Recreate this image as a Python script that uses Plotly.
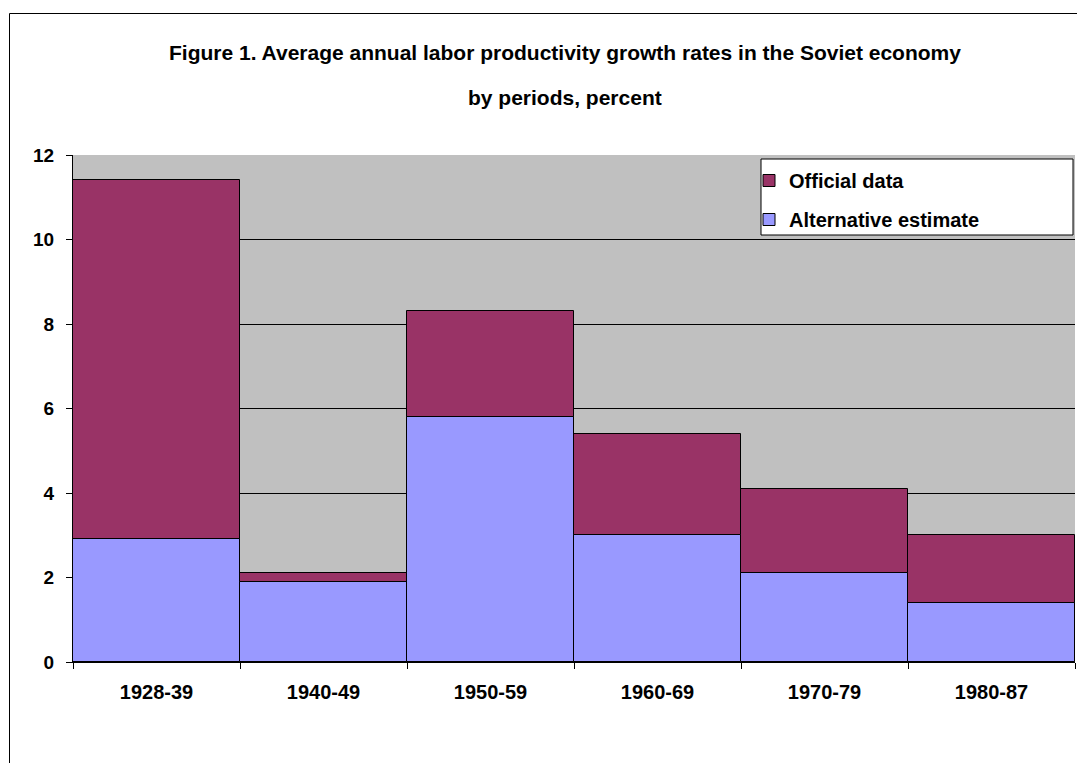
import plotly.graph_objects as go

# periods and growth rates (percent per year)
periods = ["1928-39", "1940-49", "1950-59", "1960-69", "1970-79", "1980-87"]
official = [11.4, 2.1, 8.3, 5.4, 4.1, 3.0]
alternative = [2.9, 1.9, 5.8, 3.0, 2.1, 1.4]

W, H = 1077, 763
L, R, T, B = 73, 2, 155, 101
pw, ph = W - L - R, H - T - B


def px_x(x):
    return (x - L) / pw


def px_y(y):
    return (H - B - y) / ph


fnt = "Arial, Liberation Sans, sans-serif"

fig = go.Figure()
fig.add_trace(go.Bar(
    x=periods, y=official, name="Official data", legendgroup="a",
    marker=dict(color="#993366", line=dict(color="black", width=1)),
))
fig.add_trace(go.Bar(
    x=periods, y=alternative, name="Alternative estimate", legendgroup="b",
    marker=dict(color="#9999FF", line=dict(color="black", width=1)),
))

fig.update_layout(
    width=W, height=H,
    margin=dict(l=L, r=R, t=T, b=B),
    barmode="overlay", bargap=0,
    paper_bgcolor="white", plot_bgcolor="#C0C0C0",
    font=dict(family=fnt, color="black"),
    legend=dict(
        x=px_x(749), y=px_y(161), xanchor="left", yanchor="top",
        bgcolor="rgba(0,0,0,0)", borderwidth=0,
        font=dict(size=20, family=fnt, weight="bold"),
        tracegroupgap=10,
    ),
    xaxis=dict(
        type="category", tickson="boundaries",
        ticks="outside", ticklen=6, tickcolor="black",
        showline=True, linecolor="black", linewidth=1,
        tickfont=dict(size=20, weight="bold"),
        ticklabelstandoff=12,
        showgrid=False,
    ),
    yaxis=dict(
        range=[0, 12], dtick=2,
        ticks="outside", ticklen=6, tickcolor="black",
        showline=True, linecolor="black", linewidth=1,
        showgrid=True, gridcolor="black", gridwidth=1,
        tickfont=dict(size=19, weight="bold"),
        ticklabelstandoff=8,
        zeroline=False,
    ),
    annotations=[
        dict(text="Figure 1. Average annual labor productivity growth rates in the Soviet economy",
             xref="paper", yref="paper", x=px_x(565), y=px_y(52),
             xanchor="center", yanchor="middle",
             showarrow=False, font=dict(size=21, weight="bold")),
        dict(text="by periods, percent",
             xref="paper", yref="paper", x=px_x(565), y=px_y(97),
             xanchor="center", yanchor="middle",
             showarrow=False, font=dict(size=21, weight="bold")),
    ],
    shapes=[
        # outer chart border
        dict(type="rect", xref="paper", yref="paper",
             x0=px_x(9.5), x1=1.05, y0=-0.3, y1=px_y(13.5),
             line=dict(color="black", width=1), fillcolor="rgba(0,0,0,0)", layer="below"),
        # legend box
        dict(type="rect", xref="paper", yref="paper",
             x0=px_x(761), x1=px_x(1073), y0=px_y(235), y1=px_y(159),
             line=dict(color="black", width=1), fillcolor="white", layer="above"),
    ],
)

# drop the default page margin so the figure sits at the window's corner
fig.write_html(
    "out.html",
    config={"displayModeBar": False},
    post_script="document.body.style.margin='0';document.body.style.overflow='hidden';",
)
